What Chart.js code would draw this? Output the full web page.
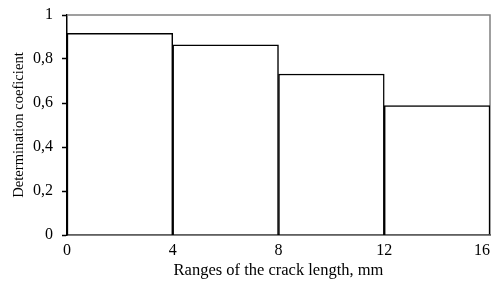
<!DOCTYPE html>
<html><head><meta charset="utf-8">
<script src="https://cdn.jsdelivr.net/npm/chart.js@4"></script>
<style>html,body{margin:0;padding:0;background:#fff}#wrap{width:492px;height:282px}</style>
</head><body><div id="wrap"><canvas id="c" width="492" height="282"></canvas></div>
<script>
const binCenters = [2, 6, 10, 14];
const coefficients = [0.917, 0.864, 0.732, 0.588];
const xTicks = [0, 4, 8, 12, 16];
const yTicks = [0, 0.2, 0.4, 0.6, 0.8, 1];
const xTitle = 'Ranges of the crack length, mm';
const yTitle = 'Determination coeficient';

const frame = {
  id: 'frame',
  beforeDatasetsDraw(chart) {
    const {ctx, chartArea: a} = chart;
    ctx.save();
    ctx.strokeStyle = '#808080';
    ctx.lineWidth = 1.5;
    ctx.beginPath();
    ctx.moveTo(a.left, a.top); ctx.lineTo(a.right, a.top); ctx.lineTo(a.right, a.bottom);
    ctx.stroke();
    ctx.restore();
  }
};
const fam = '"Liberation Serif", "Times New Roman", serif';
const tickFont = {family: fam, size: 16};
new Chart(document.getElementById('c'), {
  type: 'bar',
  data: {datasets: [{
    data: binCenters.map((x, i) => ({x, y: coefficients[i]})),
    backgroundColor: '#ffffff', borderColor: '#000000', borderWidth: 1.5,
    barPercentage: 1, categoryPercentage: 1
  }]},
  options: {
    responsive: false, animation: false,
    layout: {padding: {left: 0, right: 2, top: 15, bottom: 0}},
    plugins: {legend: {display: false}, tooltip: {enabled: false}},
    scales: {
      x: {
        type: 'linear', min: 0, max: 16, offset: false,
        afterBuildTicks: s => { s.ticks = xTicks.map(v => ({value: v})); },
        afterFit: s => { s.height = 47; s.paddingLeft = 0; s.paddingRight = 0; },
        afterUpdate: s => {
          const orig = s._computeLabelItems;
          s._computeLabelItems = function (ca) {
            const items = orig.call(this, ca);
            if (items.length) items[items.length - 1].options.textAlign = 'right';
            return items;
          };
          s._labelItems = null;
        },
        grid: {display: false},
        border: {display: true, color: '#000', width: 1.5},
        ticks: {color: '#000', font: tickFont, padding: -2, maxRotation: 0},
        title: {display: true, text: xTitle, color: '#000', font: {family: fam, size: 16.5}, padding: {top: 0, bottom: 1}}
      },
      y: {
        min: 0, max: 1,
        afterBuildTicks: s => { s.ticks = yTicks.map(v => ({value: v})); },
        afterFit: s => { s.width = 67; s.paddingTop = 0; s.paddingBottom = 0; },
        grid: {display: true, drawOnChartArea: false, drawTicks: true, tickLength: 5, tickColor: '#000', tickWidth: 1.5},
        border: {display: true, color: '#000', width: 1.5},
        ticks: {color: '#000', font: tickFont, padding: 9, callback: v => String(v).replace('.', ',')},
        title: {display: true, text: yTitle, color: '#000', font: {family: fam, size: 14.6}, padding: {top: 10, bottom: 0}}
      }
    }
  },
  plugins: [frame]
});
</script></body></html>
